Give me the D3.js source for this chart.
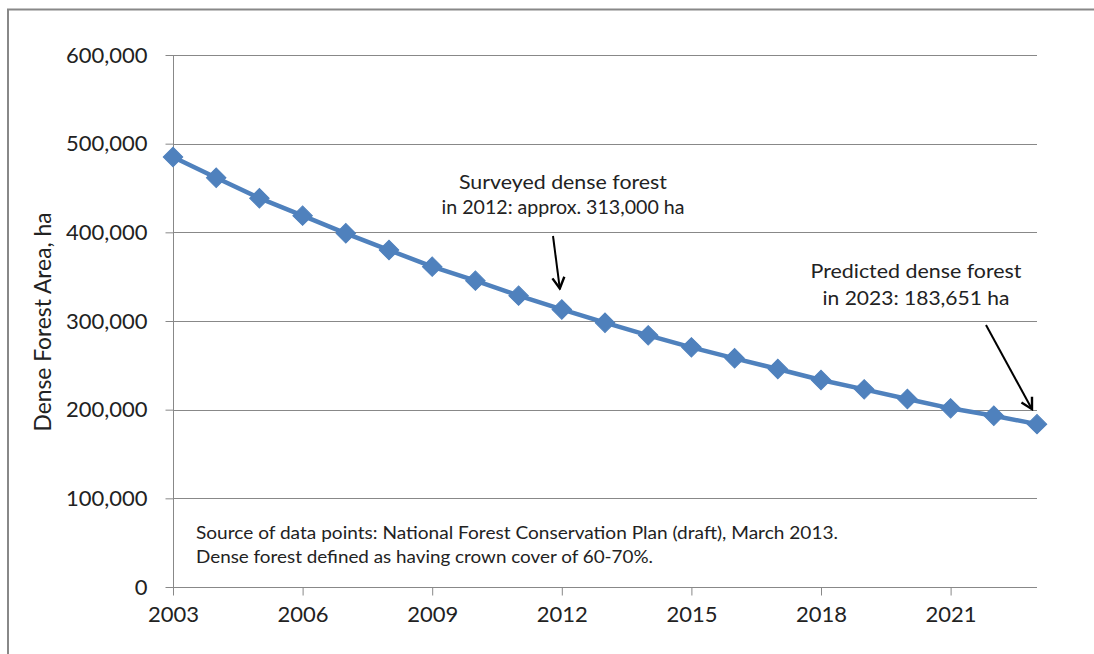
<!DOCTYPE html>
<html>
<head>
<meta charset="utf-8">
<script src="https://cdn.jsdelivr.net/npm/d3@7"></script>
<style>
  html, body { margin: 0; padding: 0; background: #fff; }
  svg { display: block; }
  text { font-family: Lato, "Open Sans", sans-serif; fill: #222; }
</style>
</head>
<body>
<svg id="chart" width="1094" height="654"></svg>
<script>
// Dense forest area by year (ha)
const years = [2003, 2004, 2005, 2006, 2007, 2008, 2009, 2010, 2011, 2012, 2013,
               2014, 2015, 2016, 2017, 2018, 2019, 2020, 2021, 2022, 2023];
const area = [485000, 461500, 438500, 418800, 398900, 380000, 361300, 345500, 328600, 313000, 298100,
              283800, 270300, 257900, 245900, 233400, 222900, 212000, 201500, 193200, 183651];
const yTicks = [0, 100000, 200000, 300000, 400000, 500000, 600000];
const xTicks = [2003, 2006, 2009, 2012, 2015, 2018, 2021];
const yTitle = "Dense Forest Area, ha";
const noteSurveyed = ["Surveyed dense forest", "in 2012: approx. 313,000 ha"];
const notePredicted = ["Predicted dense forest", "in 2023: 183,651 ha"];
const sourceLines = [
  "Source of data points: National Forest Conservation Plan (draft), March 2013.",
  "Dense forest defined as having crown cover of 60-70%."
];

const svg = d3.select("#chart");
const grey = "#888888";
const blue = "#4F81BD";

const x = d3.scaleLinear().domain([2003, 2023]).range([173, 1037]);
const y = d3.scaleLinear().domain([0, 600000]).range([587, 55]);

// chart frame (only top and left edges fall inside the view)
svg.append("path")
  .attr("d", "M8,654 V9.5 H1094")
  .attr("fill", "none")
  .attr("stroke", grey)
  .attr("stroke-width", 2);

// horizontal gridlines
svg.append("g")
  .selectAll("line")
  .data(yTicks.filter(d => d > 0))
  .join("line")
  .attr("x1", x(2003)).attr("x2", x(2023))
  .attr("y1", d => Math.round(y(d)) + 0.5).attr("y2", d => Math.round(y(d)) + 0.5)
  .attr("stroke", grey).attr("stroke-width", 1);

// y axis
const yAxis = d3.axisLeft(y)
  .tickValues(yTicks)
  .tickSize(8)
  .tickPadding(18)
  .tickFormat(d3.format(","));
const gy = svg.append("g")
  .attr("transform", `translate(${x(2003) + 0.5},0)`)
  .call(yAxis);
gy.select(".domain").attr("stroke", grey).attr("d", `M0,${y(600000)}V${y(0)}`);
gy.selectAll(".tick line").attr("stroke", grey);
gy.selectAll(".tick text")
  .attr("fill", "#222")
  .style("font-family", "Lato, 'Open Sans', sans-serif")
  .style("font-size", "22px");

// x axis
const xAxis = d3.axisBottom(x)
  .tickValues(xTicks)
  .tickSize(8)
  .tickPadding(11)
  .tickFormat(d3.format("d"));
const gx = svg.append("g")
  .attr("transform", `translate(0,${Math.round(y(0)) + 0.5})`)
  .call(xAxis);
gx.select(".domain").attr("stroke", grey).attr("d", `M${x(2003)},0H${x(2023)}`);
gx.selectAll(".tick line").attr("stroke", grey);
gx.selectAll(".tick text")
  .attr("fill", "#222")
  .style("font-family", "Lato, 'Open Sans', sans-serif")
  .style("font-size", "22px");

// y axis title
svg.append("text")
  .attr("transform", `translate(51,${(y(0) + y(600000)) / 2 + 1}) rotate(-90)`)
  .attr("text-anchor", "middle")
  .attr("textLength", 219)
  .attr("lengthAdjust", "spacingAndGlyphs")
  .style("font-size", "23px")
  .text(yTitle);

// data line
const data = years.map((yr, i) => ({ yr, v: area[i] }));
svg.append("path")
  .datum(data)
  .attr("fill", "none")
  .attr("stroke", blue)
  .attr("stroke-width", 4.5)
  .attr("stroke-linejoin", "round")
  .attr("d", d3.line().x(d => x(d.yr)).y(d => y(d.v)));

// diamond markers
const diamond = d3.symbol().type(d3.symbolSquare).size(190);
svg.append("g")
  .selectAll("path")
  .data(data)
  .join("path")
  .attr("transform", d => `translate(${x(d.yr)},${y(d.v)}) rotate(45)`)
  .attr("d", diamond)
  .attr("fill", blue)
  .attr("stroke", blue)
  .attr("stroke-width", 1);

// arrow marker
svg.append("defs").append("marker")
  .attr("id", "arrow")
  .attr("viewBox", "-14 -8 16 16")
  .attr("refX", 0).attr("refY", 0)
  .attr("markerWidth", 16).attr("markerHeight", 16)
  .attr("markerUnits", "userSpaceOnUse")
  .attr("orient", "auto")
  .append("path")
  .attr("d", "M-11,-6 L0,0 L-11,6")
  .attr("fill", "none")
  .attr("stroke", "#000")
  .attr("stroke-width", 2.4)
  .attr("stroke-linejoin", "miter");

// annotation text blocks
function note(lines, cx, baselines, widths) {
  lines.forEach((t, i) => {
    svg.append("text")
      .attr("x", cx).attr("y", baselines[i])
      .attr("text-anchor", "middle")
      .attr("textLength", widths[i])
      .attr("lengthAdjust", "spacingAndGlyphs")
      .style("font-size", "18.5px")
      .text(t);
  });
}
note(noteSurveyed, 563, [189, 214], [208, 243]);
note(notePredicted, 916, [278, 305], [211, 187]);

// arrows pointing at the annotated points
function arrow(x1, y1, yr, v, dx, dy) {
  svg.append("line")
    .attr("x1", x1).attr("y1", y1)
    .attr("x2", x(yr) + dx).attr("y2", y(v) + dy)
    .attr("stroke", "#000")
    .attr("stroke-width", 2)
    .attr("marker-end", "url(#arrow)");
}
arrow(553, 236, 2012, 313000, -2, -21);
arrow(986, 325, 2023, 183651, -5, -15);

// source note
sourceLines.forEach((t, i) => {
  svg.append("text")
    .attr("x", 196).attr("y", 539 + i * 24)
    .attr("textLength", i === 0 ? 642 : 457)
    .attr("lengthAdjust", "spacingAndGlyphs")
    .style("font-size", "18px")
    .text(t);
});
</script>
</body>
</html>
